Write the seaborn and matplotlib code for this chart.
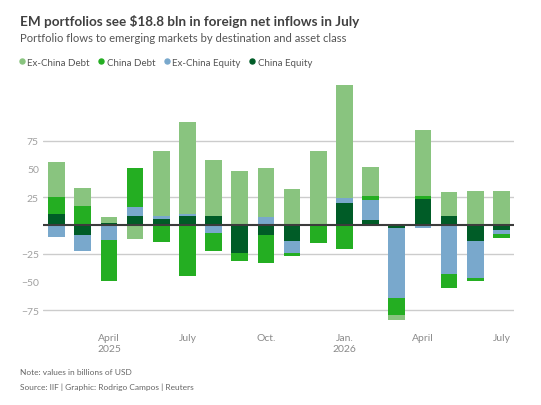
import matplotlib
matplotlib.use("Agg")
import matplotlib.pyplot as plt
import seaborn as sns
import numpy as np
import pandas as pd
from matplotlib.lines import Line2D

# ---- data (billions of USD) ----
months = ["2025-02", "2025-03", "2025-04", "2025-05", "2025-06", "2025-07",
          "2025-08", "2025-09", "2025-10", "2025-11", "2025-12", "2026-01",
          "2026-02", "2026-03", "2026-04", "2026-05", "2026-06", "2026-07"]
china_equity = [10, -8.8, 2, 8.3, 5.6, 8.3, 8.3, -24.8, -8.8, -14.2, 0, 19.8,
                4.7, -2.6, 23.3, 8.3, -14.2, -4.4]
ex_china_equity = [-10.6, -14.2, -13.3, 8, 2.7, 1.8, -7.1, 0, 7.4, -10.6, 0, 4.4,
                   17.7, -62, -2.7, -43.4, -32.7, -3.5]
china_debt = [15, 17.1, -36.3, 34.5, -15, -45, -15.9, -7.1, -24.8, -2.7, -15.9, -21.2,
              3.5, -15, 2.7, -12.4, -2.7, -3.5]
ex_china_debt = [31, 15.9, 5.3, -12.4, 57.5, 81.4, 49.6, 48, 43.4, 32.2, 65.8, 100,
                 25.7, -4.4, 58.4, 21.2, 30.4, 30.4]
tick_positions = [2, 5, 8, 11, 14, 17]
tick_labels = ["April\n2025", "July", "Oct.", "Jan.\n2026", "April", "July"]
y_ticks = [-75, -50, -25, 25, 50, 75]

sns.set_style("white")
plt.rcParams['font.family'] = ['Lato', 'DejaVu Sans']

W, H = 541, 406
fig = plt.figure(figsize=(W / 100, H / 100), dpi=100)
ax = fig.add_axes([43 / W, 1 - 323 / H, (514 - 43) / W, (323 - 84) / H])

series = [
    ("China Equity", china_equity, "#005c27"),
    ("Ex-China Equity", ex_china_equity, "#79a8cc"),
    ("China Debt", china_debt, "#24ae22"),
    ("Ex-China Debt", ex_china_debt, "#89c47f"),
]
n = len(months)
pos_base = np.zeros(n)
neg_base = np.zeros(n)
for name, vals, color in series:
    v = np.array(vals, dtype=float)
    bottom = np.where(v >= 0, pos_base, neg_base)
    df = pd.DataFrame({"month": months, "value": v})
    sns.barplot(data=df, x="month", y="value", order=months, color=color,
                width=0.64, bottom=bottom, ax=ax, saturation=1,
                errorbar=None, linewidth=0, zorder=3)
    pos_base += np.where(v > 0, v, 0)
    neg_base += np.where(v < 0, v, 0)

for g in [-75, -25, 25, 75]:
    ax.axhline(g, color="#cccccc", lw=1, zorder=1)
ax.axhline(0, color="#3c3c3c", lw=1.5, zorder=5)

ax.set_xlim(-0.52, 17.48)
ax.set_ylim(-85.6, 125.9)
for s in ax.spines.values():
    s.set_visible(False)
ax.set_xlabel("")
ax.set_ylabel("")
ax.set_yticks(y_ticks)
ax.set_yticklabels([f"{t}".replace("-", "\u2212") for t in y_ticks])
ax.set_xticks(tick_positions)
ax.set_xticklabels(tick_labels, linespacing=1.25)
ax.tick_params(axis="y", length=0, pad=3, labelsize=7.5, labelcolor="#a0a0a0")
ax.tick_params(axis="x", length=0, pad=8, labelsize=7.5, labelcolor="#8a8a8a")

fig.text(20 / W, 1 - 21 / H, "EM portfolios see $18.8 bln in foreign net inflows in July",
         fontsize=9.75, fontweight="bold", color="#404040", va="center", ha="left")
fig.text(20 / W, 1 - 38 / H, "Portfolio flows to emerging markets by destination and asset class",
         fontsize=8.1, color="#555555", va="center", ha="left")

handles = [Line2D([], [], marker="o", ls="", color=c, markersize=3.6)
           for _, _, c in reversed(series)]
labels = [nm for nm, _, _ in reversed(series)]
fig.legend(handles, labels, loc="center left", bbox_to_anchor=(15 / W, 1 - 63 / H),
           ncol=4, frameon=False, fontsize=7, handlelength=0.6, handletextpad=0.25,
           columnspacing=0.9, labelcolor="#555555", borderaxespad=0)

fig.text(20 / W, 1 - 373 / H, "Note: values in billions of USD", fontsize=6,
         color="#666666", va="center", ha="left")
fig.text(20 / W, 1 - 387 / H, "Source: IIF | Graphic: Rodrigo Campos | Reuters", fontsize=6,
         color="#666666", va="center", ha="left")

fig.savefig("out.png", dpi=100)
